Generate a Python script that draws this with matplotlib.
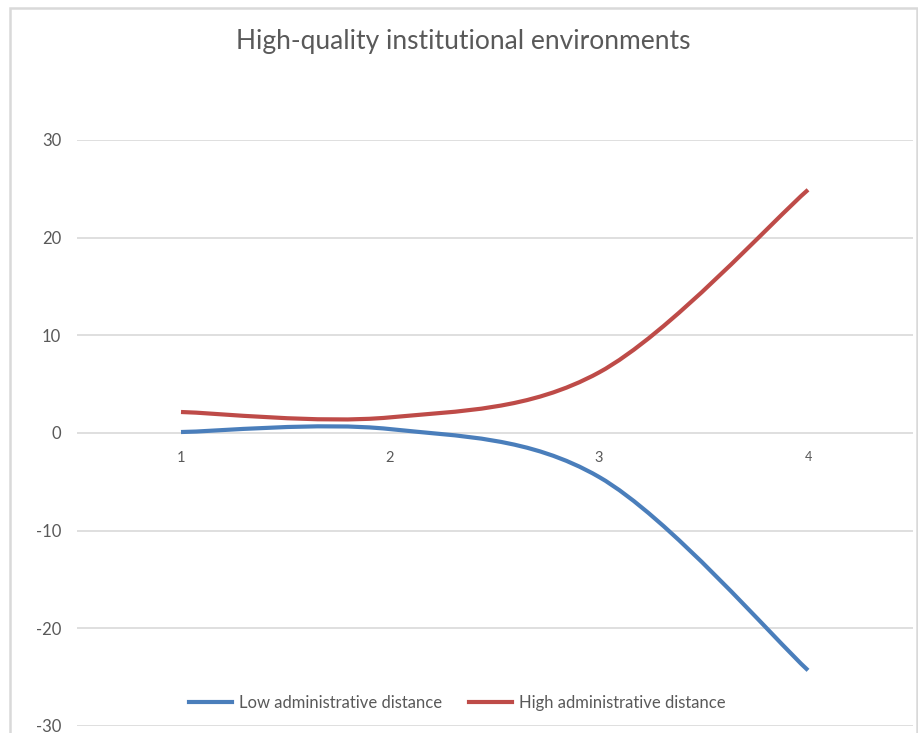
import numpy as np
import matplotlib
matplotlib.use('Agg')
import matplotlib.pyplot as plt
from matplotlib.path import Path
from matplotlib.patches import PathPatch, Rectangle
from matplotlib.lines import Line2D

plt.rcParams['font.family'] = ['Lato', 'DejaVu Sans']
plt.rcParams['axes.unicode_minus'] = False

title = 'High-quality institutional environments'
categories = [1, 2, 3, 4]
low_dist = [0.1, 0.4, -4.5, -24.3]
high_dist = [2.15, 1.6, 6.2, 24.9]
series_names = ['Low administrative distance', 'High administrative distance']
colors = ['#4a7ebb', '#be4b48']
yticks = [-30, -20, -10, 0, 10, 20, 30]


def smooth_path(xs, ys):
    # Excel-style smoothed line: cubic bezier, control points from neighbours
    p = np.column_stack([xs, ys]).astype(float)
    n = len(p)
    verts = [p[0]]
    codes = [Path.MOVETO]
    for i in range(n - 1):
        p0 = p[i - 1] if i > 0 else p[i]
        p3 = p[i + 2] if i + 2 < n else p[i + 1]
        c1 = p[i] + (p[i + 1] - p0) / 6
        c2 = p[i + 1] - (p3 - p[i]) / 6
        verts += [c1, c2, p[i + 1]]
        codes += [Path.CURVE4] * 3
    return Path(verts, codes)


fig = plt.figure(figsize=(9.18, 7.33), dpi=100)
W, H = 918, 733
ax = fig.add_axes([76.5 / W, 1 - 726 / H, (912.5 - 76.5) / W, (726 - 140) / H])

for ys, c in zip([low_dist, high_dist], colors):
    ax.add_patch(PathPatch(smooth_path(categories, ys), fill=False, edgecolor=c,
                           lw=3.0, capstyle='butt', zorder=3))

ax.set_xlim(0.5, 4.5)
ax.set_ylim(-30, 30)
ax.set_yticks(yticks)
ax.yaxis.grid(True, color='#d9d9d9', lw=1.2)
ax.set_axisbelow(True)
for s in ax.spines.values():
    s.set_visible(False)
ax.tick_params(axis='y', length=0, pad=11, labelsize=12, labelcolor='#595959')
ax.set_xticks([])
for x in categories:
    ax.annotate(str(x), (x, 0), xytext=(0, -13), textcoords='offset points',
                ha='center', va='top', fontsize=10.5 if x < 4 else 9, color='#595959')

fig.text(463 / W, 1 - 41 / H, title, ha='center', va='center', fontsize=19, color='#595959')

handles = [Line2D([], [], color=c, lw=3.0) for c in colors]
fig.legend(handles, series_names, loc='center', bbox_to_anchor=(457 / W, 1 - 703 / H),
           ncol=2, frameon=False, fontsize=12, labelcolor='#595959',
           handlelength=2.6, handletextpad=0.4, columnspacing=1.6)

fig.add_artist(Rectangle((10 / W, -0.05), 907 / W, 1 - 8 / H + 0.05, transform=fig.transFigure,
                         fill=False, edgecolor='#d9d9d9', lw=1.8))

fig.savefig('out.png', dpi=100)
